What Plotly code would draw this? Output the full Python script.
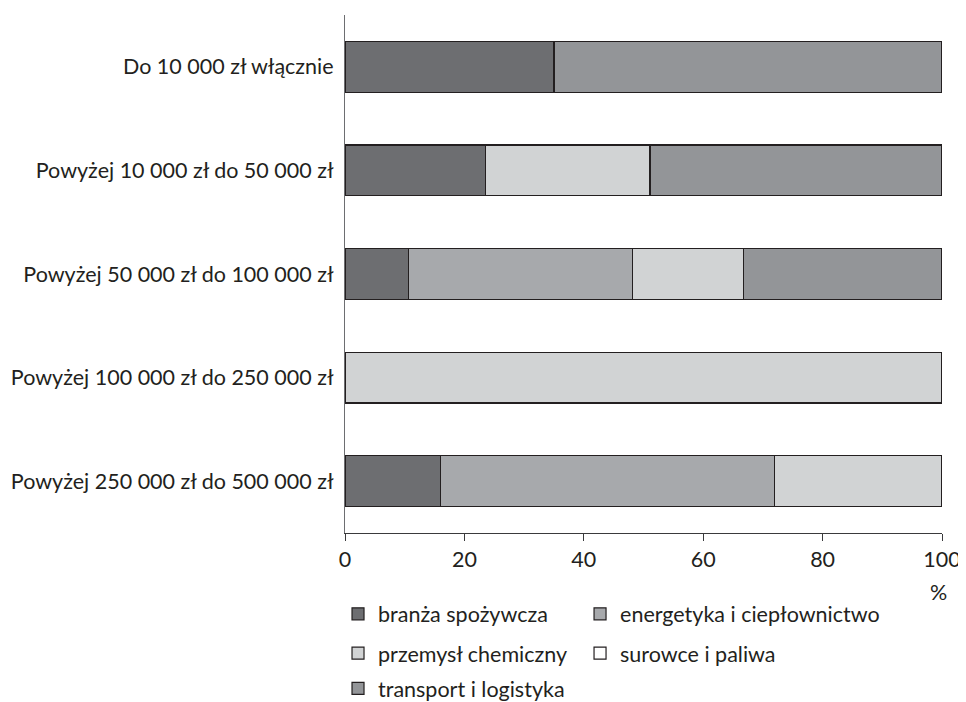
import plotly.graph_objects as go

categories = [
    "Do 10 000 zł włącznie",
    "Powyżej 10 000 zł do 50 000 zł",
    "Powyżej 50 000 zł do 100 000 zł",
    "Powyżej 100 000 zł do 250 000 zł",
    "Powyżej 250 000 zł do 500 000 zł",
]
branza = [35.0, 23.5, 10.7, 0, 16.0]
energetyka = [0, 0, 37.4, 0, 56.0]
chemiczny = [0, 27.6, 18.6, 100.0, 28.0]
surowce = [0, 0, 0, 0, 0]
transport = [65.0, 48.9, 33.3, 0, 0]

series = [
    ("branża spożywcza", branza, "#6d6e71"),
    ("energetyka i ciepłownictwo", energetyka, "#a7a9ac"),
    ("przemysł chemiczny", chemiczny, "#d1d3d4"),
    ("surowce i paliwa", surowce, "#ffffff"),
    ("transport i logistyka", transport, "#939598"),
]

FONT = "Lato"
TXT = "#231f20"
FS = 21.5

# legend grid slots (column x, row y) in plot-paper fractions
col_x = [-0.0117, 0.3937]
row_y = [-0.156, -0.232, -0.300]
slots = [(0, 0), (1, 0), (0, 1), (1, 1), (0, 2)]
legend_ids = ["legend", "legend2", "legend3", "legend4", "legend5"]

fig = go.Figure()
for (name, vals, col), lg in zip(series, legend_ids):
    fig.add_trace(go.Bar(
        y=categories, x=vals, name=name, orientation="h",
        marker=dict(color=col, line=dict(color="#231f20", width=1.2)),
        legend=lg, showlegend=True,
    ))

legends = {}
for lg, (c, r) in zip(legend_ids, slots):
    legends[lg] = dict(
        x=col_x[c], y=row_y[r],
        orientation="h", xanchor="left", yanchor="middle",
        font=dict(family=FONT, size=FS, color=TXT),
        bgcolor="rgba(0,0,0,0)", itemclick=False, itemdoubleclick=False,
        visible=True,
    )

fig.update_layout(
    showlegend=True,
    barmode="stack",
    bargap=0.51,
    width=958, height=694,
    margin=dict(l=337, r=24, t=7, b=169, autoexpand=False),
    paper_bgcolor="white", plot_bgcolor="white",
    font=dict(family=FONT, size=FS, color=TXT),
    annotations=[dict(
        text="%", x=99.4, xref="x", y=-0.114, yref="paper",
        showarrow=False, font=dict(family=FONT, size=FS, color=TXT),
        xanchor="center", yanchor="middle",
    )],
    **legends,
)

fig.update_xaxes(
    range=[0, 100], tickvals=[0, 20, 40, 60, 80, 100],
    showgrid=False, zeroline=False,
    showline=True, linecolor="#3a3a3c", linewidth=1.2,
    ticks="outside", ticklen=7, tickcolor="#3a3a3c", tickwidth=1.2,
    tickfont=dict(family=FONT, size=FS, color=TXT),
)
fig.update_yaxes(
    categoryorder="array", categoryarray=categories,
    range=[4.5, -0.5],
    showgrid=False, zeroline=False,
    showline=True, linecolor="#6d6e71", linewidth=1.2,
    ticks="", ticklabelstandoff=6,
    tickfont=dict(family=FONT, size=FS, color=TXT),
)

fig.write_html("out.html")
